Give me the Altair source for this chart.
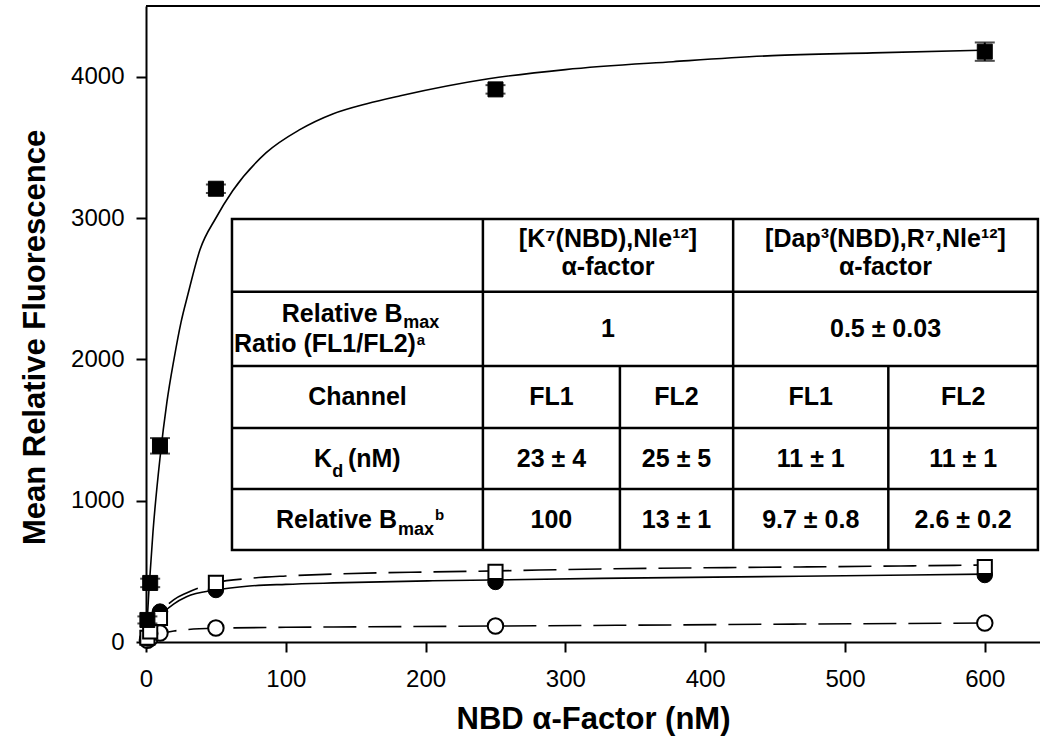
import altair as alt
import pandas as pd

# ---------------- data ----------------
conc = [1, 3, 10, 50, 250, 600]

k7_fl1 = [156, 418, 1388, 3207, 3910, 4177]
k7_fl1_err = [25, 30, 55, 30, 30, 65]
k7_fl2 = [30, 75, 170, 418, 496, 531]
k7_fl2_err = [8, 10, 15, 20, 18, 20]
dap_fl1 = [25, 60, 215, 368, 425, 474]
dap_fl1_err = [8, 10, 20, 18, 15, 18]
dap_fl2 = [12, 28, 64, 99, 113, 134]
dap_fl2_err = [4, 6, 8, 8, 8, 8]

# fitted binding curves
fit1_x = [0, 2, 5, 10, 15, 20, 25, 30, 38.6, 50, 62, 86, 110, 134, 158, 182, 245, 300, 377, 448, 520, 600]
fit1_y = [0, 350, 780, 1300, 1700, 2000, 2260, 2460, 2775, 3000, 3193, 3462, 3625, 3738, 3809, 3865, 3985, 4050, 4106, 4149, 4168, 4188]
fit2_x = [0, 2, 5, 10, 20, 29, 50, 74, 100, 134, 205, 250, 325, 400, 468, 540, 600]
fit2_y = [0, 50, 115, 200, 300, 347, 420, 450, 467, 481, 496, 503, 517, 525, 531, 538, 545]
fit3_x = [0, 2, 5, 10, 20, 29, 50, 74, 100, 134, 205, 325, 468, 600]
fit3_y = [0, 40, 100, 180, 270, 320, 368, 396, 408, 418, 433, 450, 465, 480]
fit4_x = [0, 2, 5, 10, 20, 30, 50, 100, 134, 250, 350, 468, 600]
fit4_y = [0, 15, 35, 55, 78, 88, 97, 104, 106, 113, 119, 127, 134]

# inset table text
header_k7 = ["[K⁷(NBD),Nle¹²]", "α-factor"]
header_dap = ["[Dap³(NBD),R⁷,Nle¹²]", "α-factor"]
ratio_vals = ["1", "0.5 ± 0.03"]
channel_label = "Channel"
channels = ["FL1", "FL2", "FL1", "FL2"]
kd_vals = ["23 ± 4", "25 ± 5", "11 ± 1", "11 ± 1"]
bmax_vals = ["100", "13 ± 1", "9.7 ± 0.8", "2.6 ± 0.2"]

x_ticks = [0, 100, 200, 300, 400, 500, 600]
y_ticks = [0, 1000, 2000, 3000, 4000]

# ---------------- layout ----------------
W, H = 894, 636
XMAX, YMAX = 639.5, 4500
FONT = "Liberation Sans"
PX_X = XMAX / W      # data units per px (x)
PX_Y = YMAX / H      # data units per px (y)
TS = 25              # table font size

xs = alt.Scale(domain=[0, XMAX], nice=False, zero=False)
ys = alt.Scale(domain=[0, YMAX], nice=False)

xaxis = alt.Axis(values=x_ticks, title="NBD α-Factor (nM)", grid=False, format="d",
                 labelFontSize=24, titleFontSize=31, titleFontWeight="bold",
                 labelFont=FONT, titleFont=FONT, tickSize=10, tickWidth=2,
                 domainWidth=2, labelPadding=15, titlePadding=13,
                 domainColor="black", tickColor="black", labelColor="black",
                 titleColor="black", labelFlush=False)
yaxis = alt.Axis(values=y_ticks, title="Mean Relative Fluorescence", grid=False, format="d",
                 labelFontSize=24, titleFontSize=31, titleFontWeight="bold",
                 labelFont=FONT, titleFont=FONT, tickSize=10, tickWidth=2,
                 domainWidth=2, labelPadding=12, titlePadding=19, titleY=331,
                 domainColor="black", tickColor="black", labelColor="black",
                 titleColor="black", labelFlush=False)


def X(field="x"):
    return alt.X(f"{field}:Q", scale=xs, axis=xaxis)


def Y(field="y"):
    return alt.Y(f"{field}:Q", scale=ys, axis=yaxis)


def curve(xv, yv, dash=None):
    df = pd.DataFrame({"x": xv, "y": yv})
    kw = dict(color="black", strokeWidth=1.6, interpolate="monotone")
    if dash:
        kw["strokeDash"] = dash
    return alt.Chart(df).mark_line(**kw).encode(x=X(), y=Y(), order="x:Q")


def series_df(vals, errs):
    return pd.DataFrame({
        "x": conc, "y": vals,
        "lo": [v - e for v, e in zip(vals, errs)],
        "hi": [v + e for v, e in zip(vals, errs)],
    })


def errbars(df, cap):
    bar = alt.Chart(df).mark_rule(color="black", strokeWidth=2).encode(
        x=X(), y=Y("lo"), y2="hi:Q")
    lo = alt.Chart(df).mark_tick(color="black", orient="horizontal", size=cap,
                                 thickness=2).encode(x=X(), y=Y("lo"))
    hi = alt.Chart(df).mark_tick(color="black", orient="horizontal", size=cap,
                                 thickness=2).encode(x=X(), y=Y("hi"))
    return [bar, lo, hi]


def points(df, shape, filled):
    if filled:
        m = alt.Chart(df).mark_point(shape=shape, filled=True, fill="black",
                                     stroke="black", strokeWidth=1, opacity=1,
                                     size=225 if shape == "square" else 240)
    else:
        m = alt.Chart(df).mark_point(shape=shape, filled=True, fill="white",
                                     stroke="black", strokeWidth=2, opacity=1,
                                     size=200 if shape == "square" else 240)
    return m.encode(x=X(), y=Y())


d_k7_fl1 = series_df(k7_fl1, k7_fl1_err)
d_k7_fl2 = series_df(k7_fl2, k7_fl2_err)
d_dap_fl1 = series_df(dap_fl1, dap_fl1_err)
d_dap_fl2 = series_df(dap_fl2, dap_fl2_err)

layers = [
    curve(fit4_x, fit4_y, [33, 12]),
    curve(fit3_x, fit3_y),
    curve(fit2_x, fit2_y, [33, 12]),
    curve(fit1_x, fit1_y),
]
layers += errbars(d_dap_fl2, 14) + [points(d_dap_fl2, "circle", False)]
layers += errbars(d_dap_fl1, 14) + [points(d_dap_fl1, "circle", True)]
layers += errbars(d_k7_fl2, 14) + [points(d_k7_fl2, "square", False)]
layers += errbars(d_k7_fl1, 20) + [points(d_k7_fl1, "square", True)]

# ---------------- inset table ----------------
TAB_COLS = [61.5, 241, 339, 420, 531, 638]
TAB_ROWS = [2993, 2478, 1953, 1514, 1083, 651]

frame = pd.DataFrame({"x": [TAB_COLS[0]], "x2": [TAB_COLS[-1]],
                      "y": [TAB_ROWS[-1]], "y2": [TAB_ROWS[0]]})
layers.append(alt.Chart(frame).mark_rect(fill="white", stroke="black",
                                         strokeWidth=2.5).encode(
    x=X(), x2="x2:Q", y=Y(), y2="y2:Q"))

hl = pd.DataFrame({"x": [TAB_COLS[0]] * 4, "x2": [TAB_COLS[-1]] * 4,
                   "y": TAB_ROWS[1:5]})
layers.append(alt.Chart(hl).mark_rule(color="black", strokeWidth=2.5).encode(
    x=X(), x2="x2:Q", y=Y()))
vl = pd.DataFrame({"x": [TAB_COLS[1], TAB_COLS[3], TAB_COLS[2], TAB_COLS[4]],
                   "y": [TAB_ROWS[-1]] * 4,
                   "y2": [TAB_ROWS[0], TAB_ROWS[0], TAB_ROWS[2], TAB_ROWS[2]]})
layers.append(alt.Chart(vl).mark_rule(color="black", strokeWidth=2.5).encode(
    x=X(), y=Y(), y2="y2:Q"))

col_c0 = (TAB_COLS[0] + TAB_COLS[1]) / 2
grp_c = [(TAB_COLS[1] + TAB_COLS[3]) / 2, (TAB_COLS[3] + TAB_COLS[5]) / 2]
fl_c = [(TAB_COLS[i] + TAB_COLS[i + 1]) / 2 for i in range(1, 5)]
row_c = [(TAB_ROWS[i] + TAB_ROWS[i + 1]) / 2 for i in range(5)]

segs = []


def seg(cx, cy, text, align="center", dx=0, dy=0, size=TS):
    segs.append({"x": cx + dx * PX_X, "y": cy - dy * PX_Y, "text": text,
                 "align": align, "size": size})


# header row
for c, hdr in zip(grp_c, [header_k7, header_dap]):
    seg(c, row_c[0], hdr[0], dy=-8.5)
    seg(c, row_c[0], hdr[1], dy=19.5)
# ratio row
seg(col_c0, row_c[1], "Relative B", "right", dx=45.2, dy=-7)
seg(col_c0, row_c[1], "max", "left", dx=45.7, dy=-1, size=18)
seg(col_c0, row_c[1], "Ratio (FL1/FL2)", "right", dx=58.5, dy=23)
seg(col_c0, row_c[1], "a", "left", dx=59.2, dy=16, size=15)
for c, t in zip(grp_c, ratio_vals):
    seg(c, row_c[1], t, dy=8.5)
# channel row
seg(col_c0, row_c[2], channel_label, dy=8.5)
for c, t in zip(fl_c, channels):
    seg(c, row_c[2], t, dy=8.5)
# Kd row
seg(col_c0, row_c[3], "K", "right", dx=-25.5, dy=8.5)
seg(col_c0, row_c[3], "d", "left", dx=-25.2, dy=18.5, size=18)
seg(col_c0, row_c[3], "(nM)", "left", dx=-9.5, dy=8.5)
for c, t in zip(fl_c, kd_vals):
    seg(c, row_c[3], t, dy=8.5)
# Bmax row
seg(col_c0, row_c[4], "Relative B", "right", dx=39.5, dy=8.5)
seg(col_c0, row_c[4], "max", "left", dx=40.5, dy=15.5, size=18)
seg(col_c0, row_c[4], "b", "left", dx=77.5, dy=0.5, size=15)
for c, t in zip(fl_c, bmax_vals):
    seg(c, row_c[4], t, dy=8.5)

segdf = pd.DataFrame(segs)
for al in ["left", "center", "right"]:
    sub = segdf[segdf["align"] == al]
    layers.append(alt.Chart(sub).mark_text(
        align=al, baseline="alphabetic", font=FONT, fontWeight="bold",
        color="black").encode(x=X(), y=Y(), text="text:N",
                              size=alt.Size("size:Q", scale=None)))

# top frame line of the plot box
layers.append(alt.Chart(pd.DataFrame({"a": [0]})).mark_rule(
    color="black", strokeWidth=2).encode(
    x=alt.value(0), x2=alt.value(W), y=alt.value(0)))

chart = alt.layer(*layers).properties(
    width=W, height=H,
    autosize="none",
    padding={"left": 146, "top": 6, "right": 0, "bottom": 100},
    background="white",
).configure_view(stroke=None)

chart.save("out.html", embed_options={"renderer": "svg", "actions": False})
